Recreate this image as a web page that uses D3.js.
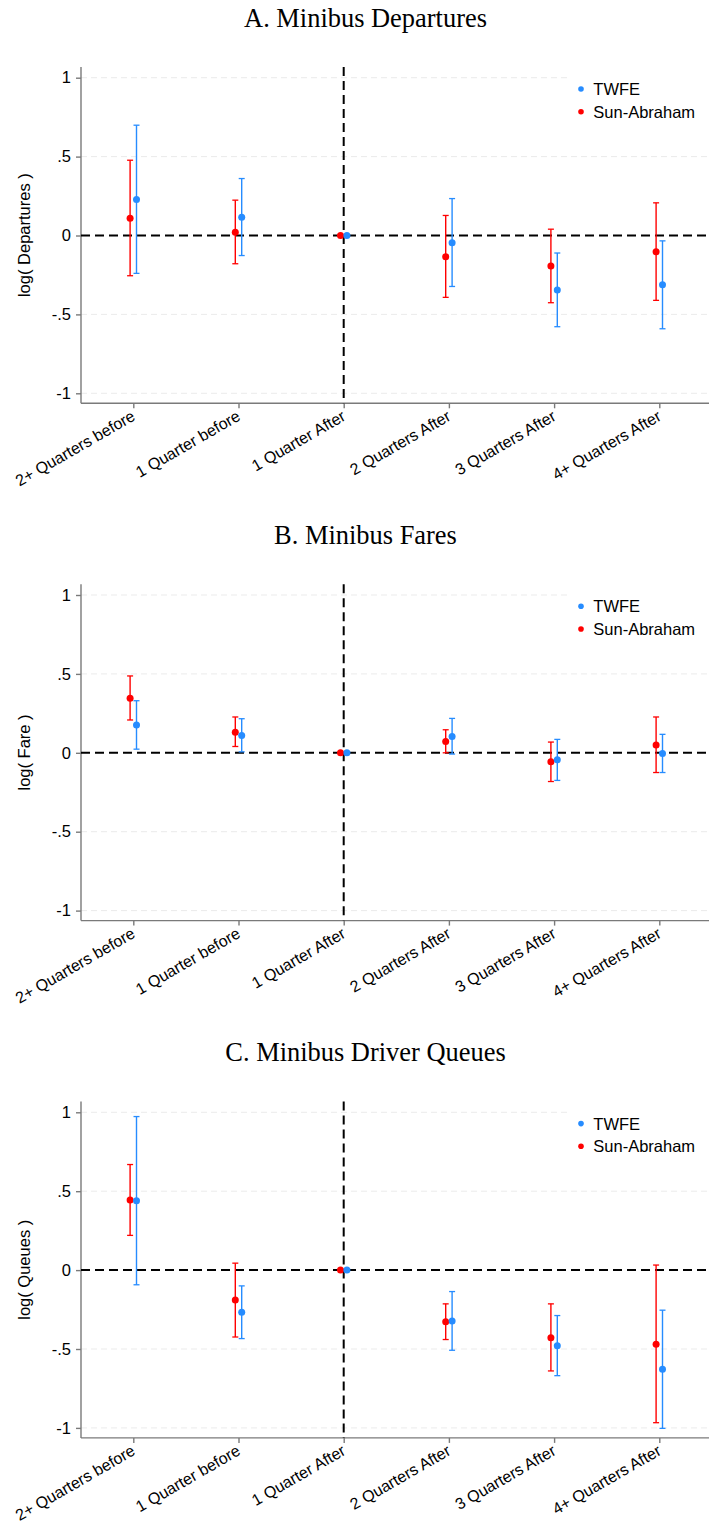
<!DOCTYPE html>
<html>
<head>
<meta charset="utf-8">
<script src="https://cdn.jsdelivr.net/npm/d3@7"></script>
<style>
  body { margin: 0; background: #fff; }
  svg { display: block; }
  .tick text, .ylab, .xlab, .legend text { font-family: "Liberation Sans", Arial, Helvetica, sans-serif; fill: #000; }
  .title { font-family: Palatino, "Book Antiqua", "Liberation Serif", serif; fill: #000; }
</style>
</head>
<body>
<script>
// event-study categories (x axis)
var categories = ["2+ Quarters before", "1 Quarter before", "1 Quarter After",
                  "2 Quarters After", "3 Quarters After", "4+ Quarters After"];
var yTicks = [-1, -0.5, 0, 0.5, 1];
var yTickLabels = ["-1", "-.5", "0", ".5", "1"];
var seriesNames = ["TWFE", "Sun-Abraham"];

// [estimate, ci low, ci high]; reference period has no CI
var departuresTwfe = [[0.228, -0.240, 0.699], [0.116, -0.127, 0.361], [0, null, null],
                      [-0.046, -0.323, 0.234], [-0.346, -0.578, -0.111], [-0.312, -0.591, -0.034]];
var departuresSA   = [[0.110, -0.255, 0.477], [0.021, -0.179, 0.224], [0, null, null],
                      [-0.135, -0.392, 0.127], [-0.194, -0.426, 0.040], [-0.103, -0.411, 0.207]];

var faresTwfe = [[0.176, 0.023, 0.330], [0.110, 0.006, 0.216], [0, null, null],
                 [0.104, -0.008, 0.218], [-0.044, -0.175, 0.085], [-0.004, -0.125, 0.117]];
var faresSA   = [[0.345, 0.208, 0.487], [0.131, 0.040, 0.227], [0, null, null],
                 [0.072, 0.000, 0.146], [-0.057, -0.182, 0.068], [0.049, -0.125, 0.227]];

var queuesTwfe = [[0.440, -0.093, 0.973], [-0.267, -0.434, -0.100], [0, null, null],
                  [-0.322, -0.508, -0.136], [-0.479, -0.669, -0.288], [-0.629, -1.003, -0.254]];
var queuesSA   = [[0.444, 0.220, 0.669], [-0.189, -0.424, 0.044], [0, null, null],
                  [-0.328, -0.440, -0.214], [-0.428, -0.639, -0.214], [-0.470, -0.967, 0.032]];

var panelTitles = ["A. Minibus Departures", "B. Minibus Fares", "C. Minibus Driver Queues"];
var panelYLabels = ["log( Departures )", "log( Fare )", "log( Queues )"];
var panelData = [[departuresTwfe, departuresSA], [faresTwfe, faresSA], [queuesTwfe, queuesSA]];

var W = 709, H = 1526, panelStep = 517.3;
var colors = {twfe: "#268cff", sa: "#ff0000"};
var axisGray = "#7a7a7a";
var titleSize = 24;

var svg = d3.select("body").append("svg").attr("width", W).attr("height", H);

var x = d3.scalePoint().domain(categories).range([133.3, 659.3]);
var y = d3.scaleLinear().domain([-1, 1]).range([393.3, 77.7]);
var axisLeft = 81, axisBottom = 403.3, axisTop = 67;

panelData.forEach(function(d, i) { drawPanel(i, d[0], d[1]); });

function drawPanel(i, twfe, sa) {
  var g = svg.append("g").attr("transform", "translate(0," + (i * panelStep) + ")");

  // title, sized so panel A's title is ~243px wide like the original
  var t = g.append("text").attr("class", "title")
    .attr("x", 365.5).attr("y", 26.7)
    .attr("text-anchor", "middle").attr("font-size", titleSize)
    .text(panelTitles[i]);
  if (i === 0) {
    titleSize = titleSize * 243 / t.node().getComputedTextLength();
  }
  t.attr("font-size", titleSize);

  // gridlines
  g.append("g").selectAll("line").data(yTicks.filter(function(v) { return v !== 0; }))
    .enter().append("line")
      .attr("x1", axisLeft).attr("x2", W)
      .attr("y1", y).attr("y2", y)
      .attr("stroke", "#ebebeb").attr("stroke-width", 1)
      .attr("stroke-dasharray", "6,4");

  // legend box (white, hides grid behind it)
  var lg = g.append("g").attr("class", "legend");
  lg.append("rect").attr("x", 568).attr("y", 72).attr("width", 150).attr("height", 56).attr("fill", "#fff");
  [["twfe", 0], ["sa", 1]].forEach(function(s) {
    var yy = 89 + s[1] * 22.7;
    lg.append("circle").attr("cx", 581).attr("cy", yy).attr("r", 2.8).attr("fill", colors[s[0]]);
    lg.append("text").attr("x", 593.3).attr("y", yy + 6).attr("font-size", 16.5).text(seriesNames[s[1]]);
  });

  // axes
  var ya = d3.axisLeft(y).tickValues(yTicks).tickFormat(function(v, k) { return yTickLabels[k]; })
    .tickSize(5).tickPadding(5);
  var yg = g.append("g").attr("transform", "translate(" + axisLeft + ",0)").call(ya);
  yg.select(".domain").attr("d", "M0," + axisTop + "V" + axisBottom);
  yg.selectAll("text").attr("font-size", 16.5);

  var xa = d3.axisBottom(x).tickSize(5).tickFormat("");
  var xg = g.append("g").attr("transform", "translate(0," + axisBottom + ")").call(xa);
  xg.select(".domain").attr("d", "M" + axisLeft + ",0H" + W);

  [yg, xg].forEach(function(a) {
    a.selectAll(".domain, .tick line").attr("stroke", axisGray).attr("stroke-width", 1.4);
  });

  g.append("g").selectAll("text").data(categories).enter().append("text")
    .attr("class", "xlab")
    .attr("font-size", 16)
    .attr("text-anchor", "end")
    .attr("transform", function(c) { return "translate(" + (x(c) + 3) + "," + (axisBottom + 16) + ") rotate(-30)"; })
    .text(function(c) { return c; });

  // y label
  g.append("text").attr("class", "ylab").attr("font-size", 16.5)
    .attr("text-anchor", "middle")
    .attr("transform", "translate(30," + ((axisTop + axisBottom) / 2) + ") rotate(-90)")
    .text(panelYLabels[i]);

  // reference lines
  g.append("line").attr("x1", axisLeft).attr("x2", W).attr("y1", y(0)).attr("y2", y(0))
    .attr("stroke", "#000").attr("stroke-width", 2).attr("stroke-dasharray", "9,5");
  g.append("line").attr("x1", x(categories[2])).attr("x2", x(categories[2]))
    .attr("y1", axisTop).attr("y2", axisBottom)
    .attr("stroke", "#000").attr("stroke-width", 2).attr("stroke-dasharray", "9,5");

  // series: Sun-Abraham left, TWFE right
  [[sa, colors.sa, -3.2], [twfe, colors.twfe, 3.2]].forEach(function(s) {
    var sg = g.append("g");
    var rows = s[0].map(function(r, k) { return {cat: categories[k], est: r[0], lo: r[1], hi: r[2]}; });
    var ci = rows.filter(function(r) { return r.lo !== null; });
    var cx = function(r) { return x(r.cat) + s[2]; };
    sg.selectAll("line.ci").data(ci).enter().append("line")
      .attr("x1", cx).attr("x2", cx)
      .attr("y1", function(r) { return y(r.lo); }).attr("y2", function(r) { return y(r.hi); })
      .attr("stroke", s[1]).attr("stroke-width", 1.4);
    ["lo", "hi"].forEach(function(key) {
      sg.selectAll("line.cap-" + key).data(ci).enter().append("line")
        .attr("x1", function(r) { return cx(r) - 3; }).attr("x2", function(r) { return cx(r) + 3; })
        .attr("y1", function(r) { return y(r[key]); }).attr("y2", function(r) { return y(r[key]); })
        .attr("stroke", s[1]).attr("stroke-width", 1.3);
    });
    sg.selectAll("circle").data(rows).enter().append("circle")
      .attr("cx", cx).attr("cy", function(r) { return y(r.est); })
      .attr("r", 3.5).attr("fill", s[1]);
  });
}
</script>
</body>
</html>
